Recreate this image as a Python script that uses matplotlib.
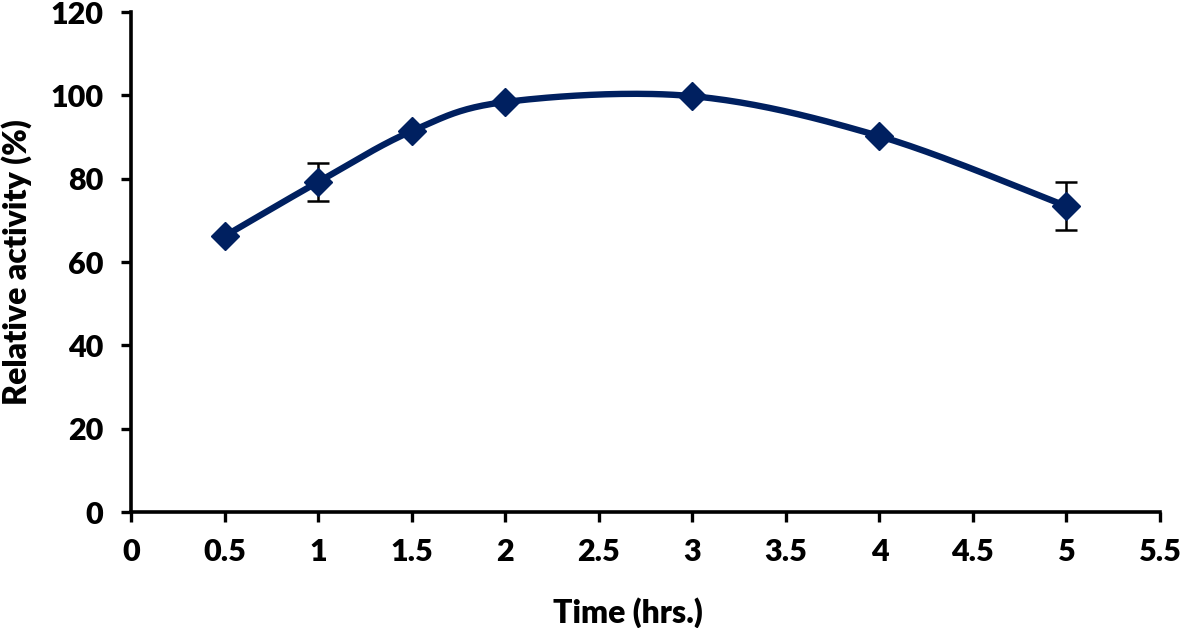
import numpy as np
import matplotlib
matplotlib.use("Agg")
import matplotlib.pyplot as plt

# Data
time_hrs = [0.5, 1.0, 1.5, 2.0, 3.0, 4.0, 5.0]
activity = [66.2, 79.2, 91.4, 98.4, 99.8, 90.2, 73.4]
error = [0.0, 4.6, 0.0, 0.0, 0.0, 0.0, 5.7]
x_ticks = [0, 0.5, 1, 1.5, 2, 2.5, 3, 3.5, 4, 4.5, 5, 5.5]
x_tick_labels = ["0", "0.5", "1", "1.5", "2", "2.5", "3", "3.5", "4", "4.5", "5", "5.5"]
y_ticks = [0, 20, 40, 60, 80, 100, 120]

plt.rcParams['font.family'] = ['Lato', 'DejaVu Sans']
WEIGHT = 'heavy'

navy = '#002060'

def smooth(xs, ys, n=40):
    """Excel-style smoothed line (Catmull-Rom Bezier)."""
    P = np.column_stack([xs, ys]).astype(float)
    ext = np.vstack([P[0], P, P[-1]])
    out = []
    t = np.linspace(0, 1, n)[:, None]
    for i in range(len(P) - 1):
        p0 = ext[i + 1]
        p3 = ext[i + 2]
        c1 = p0 + (ext[i + 2] - ext[i]) / 6.0
        c2 = p3 - (ext[i + 3] - ext[i + 1]) / 6.0
        seg = ((1 - t) ** 3) * p0 + 3 * ((1 - t) ** 2) * t * c1 + 3 * (1 - t) * t ** 2 * c2 + t ** 3 * p3
        out.append(seg if i == 0 else seg[1:])
    seg = np.vstack(out)
    return seg[:, 0], seg[:, 1]

fig = plt.figure(figsize=(11.81, 6.28), dpi=100)
ax = fig.add_axes([131 / 1181, 116 / 628, (1160 - 131) / 1181, (512 - 12) / 628])

sx, sy = smooth(time_hrs, activity)
ax.errorbar(time_hrs, activity, yerr=error, fmt='none', ecolor='black',
            elinewidth=1.8, capsize=8, capthick=1.8, zorder=2)
ax.plot(sx, sy, color=navy, lw=4.6, zorder=3, solid_capstyle='round')
ax.plot(time_hrs, activity, linestyle='none', marker='D', markersize=14.5,
        color=navy, zorder=4)

ax.set_xlim(0, 5.5)
ax.set_ylim(0, 120)
ax.set_xticks(x_ticks)
ax.set_xticklabels(x_tick_labels)
ax.set_yticks(y_ticks)

for side in ['top', 'right']:
    ax.spines[side].set_visible(False)
for side in ['left', 'bottom']:
    ax.spines[side].set_linewidth(2.6)
    ax.spines[side].set_color('black')

fs = 22
ax.tick_params(axis='both', direction='out', length=7, width=2.4,
               labelsize=fs, colors='black')
ax.tick_params(axis='x', pad=12)
ax.tick_params(axis='y', pad=13)
for lab in ax.get_xticklabels() + ax.get_yticklabels():
    lab.set_fontweight(WEIGHT)

ax.set_xlabel('Time (hrs.)', fontsize=fs + 1, fontweight=WEIGHT)
ax.set_ylabel('Relative activity (%)', fontsize=fs + 1, fontweight=WEIGHT)
ax.xaxis.set_label_coords((628 - 131) / (1160 - 131), -(597 - 512) / 500)
ax.yaxis.set_label_coords(-(131 - 32) / (1160 - 131), 0.5)

fig.savefig('out.png', dpi=100, facecolor='white')
